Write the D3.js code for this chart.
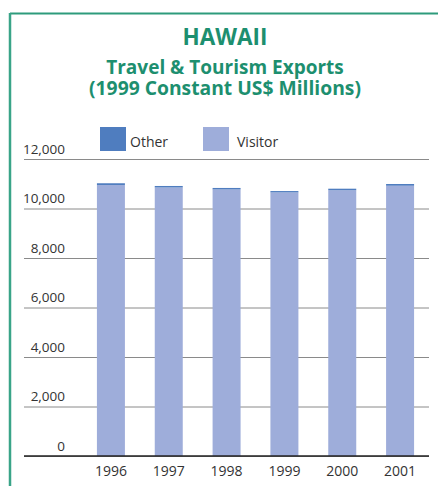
<!DOCTYPE html>
<html>
<head>
<meta charset="utf-8">
<script src="https://cdn.jsdelivr.net/npm/d3@7/dist/d3.min.js"></script>
<style>
  html, body { margin: 0; padding: 0; background: #fff; }
  svg { display: block; }
</style>
</head>
<body>
<svg id="chart" width="438" height="486"></svg>
<script>
// Hawaii travel & tourism exports, 1999 constant US$ millions
const years = ["1996", "1997", "1998", "1999", "2000", "2001"];
const visitor = [10950, 10850, 10770, 10650, 10740, 10920];
const other = [70, 60, 60, 55, 60, 70];
const yTicks = [0, 2000, 4000, 6000, 8000, 10000, 12000];
const seriesNames = ["Other", "Visitor"];

const colors = { Other: "#4f7dbf", Visitor: "#9eadda" };
const green = "#1d8f6f";
const font = "'Open Sans', 'Noto Sans', sans-serif";

const svg = d3.select("#chart");

// frame
svg.append("line").attr("x1", 10).attr("x2", 438).attr("y1", 13.5).attr("y2", 13.5)
  .attr("stroke", "#2e9b7c").attr("stroke-width", 2);
svg.append("line").attr("x1", 10).attr("x2", 10).attr("y1", 13).attr("y2", 486)
  .attr("stroke", "#3aa488").attr("stroke-width", 2.5);

// titles
const titles = svg.append("g").attr("fill", green).attr("font-family", font)
  .attr("font-weight", "bold").attr("text-anchor", "middle");
titles.append("text").attr("x", 225).attr("y", 45).attr("font-size", 22.5).text("HAWAII");
titles.append("text").attr("x", 225).attr("y", 73.5).attr("font-size", 19).text("Travel & Tourism Exports");
titles.append("text").attr("x", 225).attr("y", 94.5).attr("font-size", 19.3).text("(1999 Constant US$ Millions)");

// scales
const x = d3.scaleBand().domain(years).range([82, 429]).paddingInner(0.516).paddingOuter(0.258);
const y = d3.scaleLinear().domain([0, 12000]).range([456, 159]);

// gridlines + value labels
const yAxis = d3.axisRight(y).tickValues(yTicks).tickSize(405).tickFormat(d3.format(","));
const gy = svg.append("g").attr("transform", "translate(24,0)").call(yAxis);
gy.select(".domain").remove();
gy.selectAll(".tick line").attr("stroke", "#8a8a8a").attr("stroke-width", 1);
gy.selectAll(".tick text")
  .attr("x", 41).attr("dy", -6).attr("text-anchor", "end")
  .attr("font-family", font).attr("font-size", 13.5).attr("fill", "#333");

// stacked bars: visitor at the bottom, other on top
const rows = years.map((yr, i) => ({ year: yr, Visitor: visitor[i], Other: other[i] }));
const stack = d3.stack().keys(["Visitor", "Other"])(rows);
svg.append("g").selectAll("g").data(stack).join("g")
  .attr("fill", d => colors[d.key])
  .selectAll("rect").data(d => d).join("rect")
  .attr("x", d => x(d.data.year))
  .attr("width", x.bandwidth())
  .attr("y", d => y(d[1]))
  .attr("height", d => y(d[0]) - y(d[1]));

// baseline
svg.append("line").attr("x1", 24).attr("x2", 429).attr("y1", y(0)).attr("y2", y(0))
  .attr("stroke", "#222").attr("stroke-width", 1.5);

// category labels
const xAxis = d3.axisBottom(x).tickSize(0).tickPadding(0);
const gx = svg.append("g").attr("transform", `translate(0,${y(0)})`).call(xAxis);
gx.select(".domain").remove();
gx.selectAll(".tick text").attr("y", 19.5).attr("dy", 0)
  .attr("font-family", font).attr("font-size", 14).attr("fill", "#333");

// legend
const legendX = [100, 203];
const lg = svg.append("g").selectAll("g").data(seriesNames).join("g")
  .attr("transform", (d, i) => `translate(${legendX[i]},127)`);
lg.append("rect").attr("width", 26).attr("height", 24).attr("fill", d => colors[d]);
lg.append("text").attr("x", d => d === "Other" ? 30 : 34).attr("y", 20)
  .attr("font-family", font).attr("font-size", 14).attr("fill", "#333").text(d => d);
</script>
</body>
</html>
